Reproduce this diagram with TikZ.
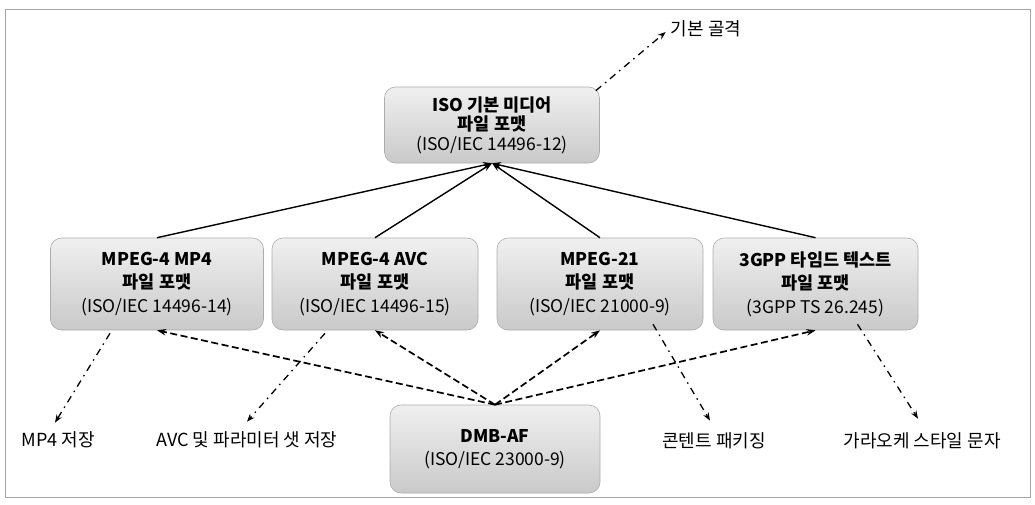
\documentclass[tikz,border=0pt]{standalone}
\usepackage{fontspec}
\setmainfont{Noto Sans CJK KR}
\usetikzlibrary{arrows.meta,calc}
\begin{document}
\begin{tikzpicture}[x=1pt,y=-1pt,
  fmtbox/.style={draw=gray!65,line width=0.6pt,rounded corners=11pt,
    top color=gray!12,bottom color=gray!42,align=center,inner sep=0pt,
    font=\fontsize{17.5}{23.5}\selectfont},
  solidarr/.style={line width=1.4pt,-{Stealth[length=9pt,width=6.5pt]}},
  dasharr/.style={line width=1.7pt,dash pattern=on 7pt off 3.5pt,-{Stealth[length=9pt,width=6.5pt]}},
  dotarr/.style={line width=1.3pt,dash pattern=on 7pt off 5pt on 1.5pt off 5pt,-{Stealth[length=8pt,width=6pt]}},
  lbl/.style={font=\fontsize{18}{20}\selectfont,inner sep=1pt}]
\useasboundingbox (0,0) rectangle (1035,504);
\draw[gray!70,line width=0.8pt] (5,9) rectangle (1030,497);

\node[fmtbox,minimum width=215pt,minimum height=76pt,font=\fontsize{17.5}{19.5}\selectfont] (TOP) at (492,125)
  {\textbf{ISO 기본 미디어}\\\textbf{파일 포맷}\\(ISO/IEC 14496-12)};
\node[fmtbox,minimum width=213pt,minimum height=92pt] (B1) at (157,284)
  {\textbf{MPEG-4 MP4}\\\textbf{파일 포맷}\\(ISO/IEC 14496-14)};
\node[fmtbox,minimum width=206pt,minimum height=92pt] (B2) at (375,284)
  {\textbf{MPEG-4 AVC}\\\textbf{파일 포맷}\\(ISO/IEC 14496-15)};
\node[fmtbox,minimum width=206pt,minimum height=92pt] (B3) at (600,284)
  {\textbf{MPEG-21}\\\textbf{파일 포맷}\\(ISO/IEC 21000-9)};
\node[fmtbox,minimum width=205pt,minimum height=92pt] (B4) at (815.5,284)
  {\textbf{3GPP 타임드 텍스트}\\\textbf{파일 포맷}\\(3GPP TS 26.245)};
\node[fmtbox,minimum width=210pt,minimum height=88pt] (DMB) at (495,449)
  {\textbf{DMB-AF}\\(ISO/IEC 23000-9)};

\node[lbl] (L0) at (706,29) {기본 골격};
\node[lbl] (L1) at (58,440) {MP4 저장};
\node[lbl] (L2) at (247,440) {AVC 및 파라미터 샛 저장};
\node[lbl] (L3) at (714,441) {콘텐트 패키징};
\node[lbl] (L4) at (922,441) {가라오케 스타일 문자};

\foreach \b in {B1,B2,B3,B4} \draw[solidarr] (\b.north) -- (TOP.south);
\foreach \b in {B1,B2,B3,B4} \draw[dasharr] (DMB.north) -- (\b.south);

\coordinate (s0) at ($(TOP.north east)+(-4,4)$);
\coordinate (s1) at ($(B1.south)+(-47,3)$);
\coordinate (s2) at ($(B2.south)+(-50,3)$);
\coordinate (s3) at ($(B3.south)+(53,-6)$);
\coordinate (s4) at ($(B4.south)+(42,-6)$);
\draw[dotarr] (s0) -- ($(L0.west)+(-4,3)$);
\draw[dotarr] (s1) -- ($(L1.north)+(-3,-8)$);
\draw[dotarr] (s2) -- ($(L2.north)+(0,-9)$);
\draw[dotarr] (s3) -- ($(L3.north)+(-4,-11)$);
\draw[dotarr] (s4) -- ($(L4.north)+(-4,-13)$);
\end{tikzpicture}
\end{document}
